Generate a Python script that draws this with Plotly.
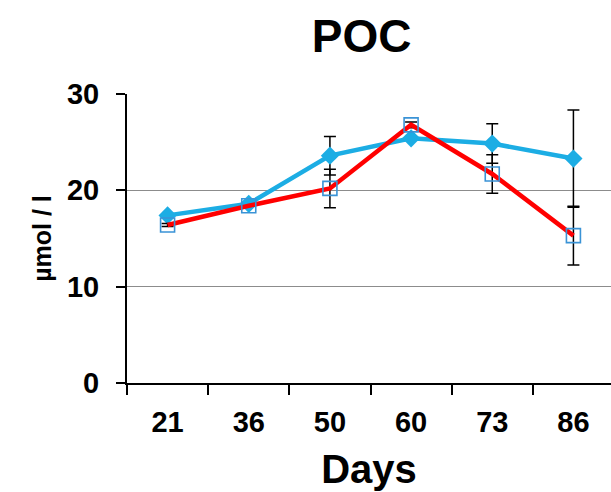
import plotly.graph_objects as go

# Sampling days (categorical x axis)
days = ["21", "36", "50", "60", "73", "86"]

# POC concentrations (µmol / l) and standard deviations
poc_a = [17.4, 18.6, 23.6, 25.4, 24.85, 23.3]
poc_a_sd = [0.0, 0.0, 2.0, 0.0, 2.05, 5.05]

poc_b = [16.4, 18.4, 20.2, 26.8, 21.7, 15.3]
poc_b_sd = [0.15, 0.0, 2.0, 0.3, 2.0, 3.05]

y_ticks = [0, 10, 20, 30]

FONT = "Arial, Liberation Sans, sans-serif"

fig = go.Figure()

fig.add_trace(go.Scatter(
    x=days, y=poc_a,
    mode="lines+markers",
    line=dict(color="#1CADE4", width=4.5),
    marker=dict(symbol="diamond", size=14, color="#1CADE4"),
    error_y=dict(type="data", array=poc_a_sd, visible=True,
                 color="black", thickness=1.5, width=6),
    showlegend=False,
))

fig.add_trace(go.Scatter(
    x=days, y=poc_b,
    mode="lines+markers",
    line=dict(color="#FF0000", width=4.5),
    marker=dict(symbol="square-open", size=14, color="#3A93D6",
                line=dict(width=1.6, color="#3A93D6")),
    error_y=dict(type="data", array=poc_b_sd, visible=True,
                 color="black", thickness=1.5, width=6),
    showlegend=False,
))

fig.update_layout(
    width=611, height=492,
    margin=dict(l=127, r=0, t=94, b=109),
    paper_bgcolor="white",
    plot_bgcolor="white",
    font=dict(family=FONT, color="black"),
    title=dict(text="POC", x=0.592, xanchor="center",
               y=1 - 36 / 492, yanchor="middle",
               font=dict(size=46, family=FONT, color="black", weight="bold")),
    xaxis=dict(
        type="category",
        range=[-0.5, 5.463],
        tickson="boundaries",
        ticks="outside", ticklen=10, tickwidth=2, tickcolor="black",
        showline=True, linecolor="black", linewidth=2,
        showgrid=False,
        tickfont=dict(size=29, family=FONT, color="black", weight="bold"),
        ticklabelstandoff=12,
        title=dict(text="Days", font=dict(size=40, family=FONT, color="black", weight="bold"),
                   standoff=18),
    ),
    yaxis=dict(
        range=[0, 30],
        tickvals=y_ticks,
        ticks="outside", ticklen=9, tickwidth=2, tickcolor="black",
        showline=True, linecolor="black", linewidth=2,
        showgrid=True, gridcolor="#8C8C8C", gridwidth=1,
        zeroline=False,
        tickfont=dict(size=29, family=FONT, color="black", weight="bold"),
        ticklabelstandoff=11,
        title=dict(text="µmol / l", font=dict(size=25, family=FONT, color="black", weight="bold"),
                   standoff=8),
    ),
)

fig.write_html("out.html")
